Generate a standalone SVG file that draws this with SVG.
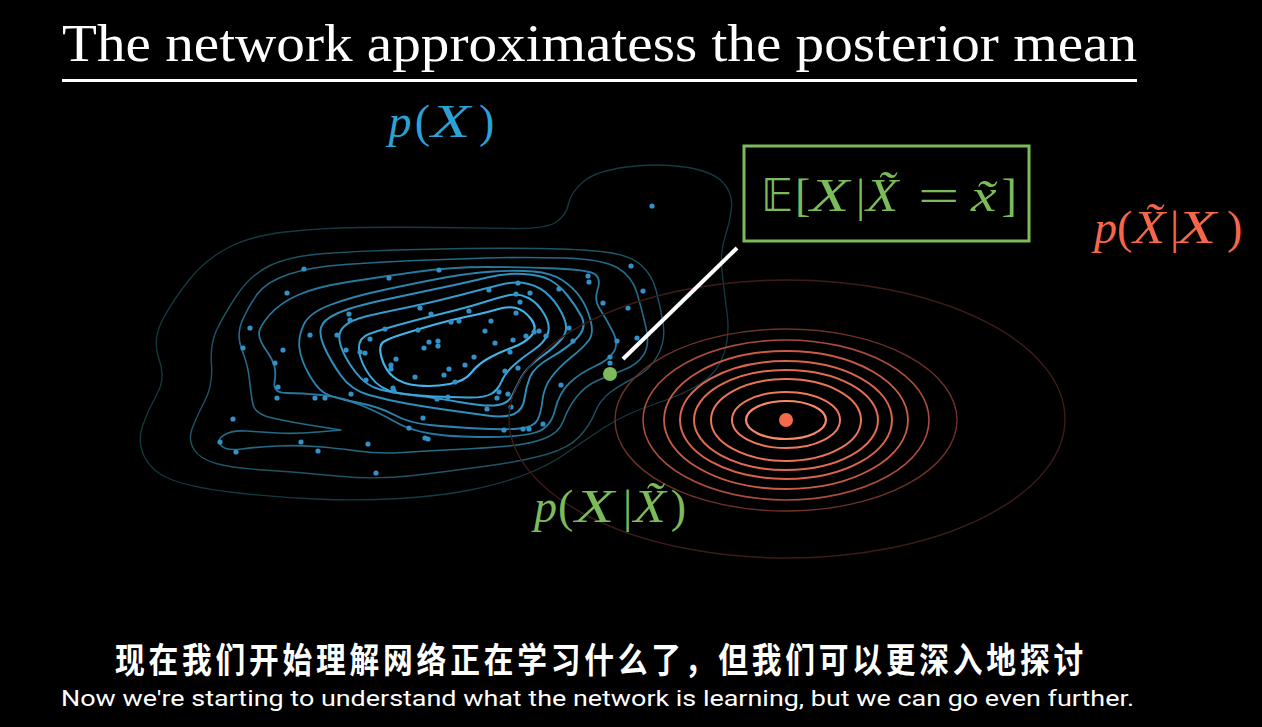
<svg xmlns="http://www.w3.org/2000/svg" width="1262" height="727" viewBox="0 0 1262 727">
<style>
.bc{fill:none;stroke-linejoin:round}
.rc{fill:none}
.m{font-family:"Liberation Serif","Times New Roman",serif;font-size:46px}
.i{font-style:italic}
.bb{font-family:"DejaVu Sans","DejaVu Serif",serif;font-size:44px}
.dot{fill:#3391c9}
.blue{fill:#2aa2d6}
.green{fill:#7cbb5a}
.red{fill:#f4674a}
</style>
<rect width="1262" height="727" fill="#000"/>

<g id="title">
<text x="62" y="61" font-family="'Liberation Serif','Times New Roman',serif" font-size="53" fill="#fff" textLength="1075" lengthAdjust="spacingAndGlyphs">The network approximatess the posterior mean</text>
<rect x="62" y="79" width="1075" height="3" fill="#fff"/>
</g>

<g id="prior-contours">
<path class="bc" stroke="#143a44" stroke-width="1.3" d="M189,280 Q173,300 162.5,320 Q152,340 159,359 Q166,378 157,394 Q148,410 142.5,426 Q137,442 144.5,457 Q152,472 171,479.5 Q190,487 230,492 Q270,497 315,499 Q360,501 400,498.5 Q440,496 470,490 Q500,484 524,475 Q548,466 566.5,453 Q585,440 605,427 Q625,414 655,404 Q685,394 701.5,383 Q718,372 724,353.5 Q730,335 727,312.5 Q724,290 722,271 Q720,252 725,237 Q730,222 731.5,207.5 Q733,193 722.5,182 Q712,171 684.5,167 Q657,163 626.5,167 Q596,171 583.5,181.5 Q571,192 568.5,204 Q566,216 555.5,222.5 Q545,229 512.5,228.5 Q480,228 440,227.5 Q400,227 360,227.5 Q320,228 285,232 Q250,236 227.5,248 Q205,260 189,280 Z"/>
<path class="bc" stroke="#1d5566" stroke-width="1.4" d="M236,296.5 Q222,318 216,331.5 Q210,345 211.5,365 Q213,385 204.5,401.5 Q196,418 192,429 Q188,440 194,449.5 Q200,459 216,463.5 Q232,468 264.5,470 Q297,472 336.5,476 Q376,480 413.5,475.5 Q451,471 487,466 Q523,461 546,454.5 Q569,448 579.5,436.5 Q590,425 595,412.5 Q600,400 610,392.5 Q620,385 635,377.5 Q650,370 658,355 Q666,340 663,322.5 Q660,305 656,290 Q652,275 641,265 Q630,255 605,252 Q580,249 540,248.5 Q500,248 465,248.5 Q430,249 395,250 Q360,251 325,253.5 Q290,256 270,265.5 Q250,275 236,296.5 Z"/>
<path class="bc" stroke="#236a86" stroke-width="1.6" d="M257,294.5 Q248,307 242,321 Q236,335 242,350 Q248,365 249.5,380 Q251,395 253,404.5 Q255,414 272.5,418 Q290,422 315.5,426 Q341,430 341,430 Q341,430 318,432 Q295,434 277.5,433 Q260,432 246,431 Q232,430 224,435 Q216,440 221,445.5 Q226,451 241.5,449 Q257,447 276.5,446 Q296,445 315.5,446.5 Q335,448 357.5,451 Q380,454 402.5,452.5 Q425,451 456,449.5 Q487,448 508.5,446 Q530,444 544.5,438.5 Q559,433 563.5,420.5 Q568,408 576.5,397 Q585,386 597.5,380.5 Q610,375 623.5,370 Q637,365 643.5,355 Q650,345 646,327.5 Q642,310 637,293 Q632,276 617,267.5 Q602,259 562.5,258 Q523,257 487,258 Q451,259 415.5,260.5 Q380,262 345,264.5 Q310,267 288,274.5 Q266,282 257,294.5 Z"/>
<path class="bc" stroke="#27779b" stroke-width="1.8" d="M259,333.5 Q259,340 266,350 Q273,360 274.5,366.5 Q276,373 274.5,383 Q273,393 287,393 Q301,393 321,395 Q341,397 360.5,405 Q380,413 394.5,421.5 Q409,430 430,433.5 Q451,437 487,437 Q523,437 537,432 Q551,427 555,410 Q559,393 569.5,383 Q580,373 594.5,366.5 Q609,360 614,351.5 Q619,343 612,330 Q605,317 599.5,308.5 Q594,300 597.5,290 Q601,280 596,275 Q591,270 557,268.5 Q523,267 487,267 Q451,267 415.5,272 Q380,277 348,282 Q316,287 298,295 Q280,303 269.5,315 Q259,327 259,333.5 Z"/>
<path class="bc" stroke="#2b84ad" stroke-width="1.8" d="M303.5,325 Q298,337 299.5,348.5 Q301,360 308.5,373.5 Q316,387 323,392 Q330,397 355,402 Q380,407 394.5,415 Q409,423 430,425 Q451,427 478,428.5 Q505,430 519.5,428.5 Q534,427 537.5,420 Q541,413 542.5,400 Q544,387 551.5,377 Q559,367 571.5,357 Q584,347 589,340 Q594,333 590.5,320 Q587,307 580,297 Q573,287 562,280 Q551,273 533.5,271.5 Q516,270 492.5,271.5 Q469,273 442.5,278 Q416,283 383.5,290 Q351,297 330,305 Q309,313 303.5,325 Z"/>
<path class="bc" stroke="#2f8fbd" stroke-width="2" d="M321,327.5 Q319,335 324.5,347.5 Q330,360 340.5,375 Q351,390 369,395 Q387,400 406.5,403.5 Q426,407 447.5,410 Q469,413 487,415.5 Q505,418 514,414 Q523,410 524.5,398.5 Q526,387 530,377 Q534,367 551.5,357 Q569,347 578,337 Q587,327 581.5,316.5 Q576,306 567.5,295.5 Q559,285 550,280 Q541,275 523,274 Q505,273 487,277.5 Q469,282 442.5,287.5 Q416,293 383.5,300 Q351,307 337,313.5 Q323,320 321,327.5 Z"/>
<path class="bc" stroke="#349bcc" stroke-width="2" d="M344,326.5 Q337,333 340.5,345 Q344,357 355,371.5 Q366,386 380,389.5 Q394,393 415.5,395.5 Q437,398 462,402.5 Q487,407 498,405 Q509,403 512.5,395 Q516,387 521.5,377 Q527,367 541,357 Q555,347 562,338.5 Q569,330 564,318 Q559,306 550,296.5 Q541,287 528.5,284 Q516,281 501.5,284.5 Q487,288 460.5,295 Q434,302 407,307.5 Q380,313 365.5,316.5 Q351,320 344,326.5 Z"/>
<path class="bc" stroke="#3aa8dc" stroke-width="2" d="M369,334 Q358,338 359,350 Q360,362 370,376 Q380,390 398,393 Q416,396 433.5,396.5 Q451,397 467.5,397.5 Q484,398 491,394 Q498,390 501.5,381.5 Q505,373 514,365 Q523,357 533.5,350 Q544,343 547.5,334.5 Q551,326 544.5,314.5 Q538,303 528.5,298 Q519,293 509.5,295 Q500,297 484.5,302 Q469,307 442.5,313.5 Q416,320 398,325 Q380,330 369,334 Z"/>
<path class="bc" stroke="#42b6ea" stroke-width="2.2" d="M384,341.5 Q378,345 381.5,357.5 Q385,370 393.5,377 Q402,384 418,385.5 Q434,387 449.5,384 Q465,381 471.5,372.5 Q478,364 489,358 Q500,352 512.5,347.5 Q525,343 531.5,335.5 Q538,328 531,319 Q524,310 516,308 Q508,306 496.5,309.5 Q485,313 467.5,316.5 Q450,320 433,325 Q416,330 403,334 Q390,338 384,341.5 Z"/>
</g>

<g id="samples">
<circle class="dot" cx="652" cy="206" r="2.6"/><circle class="dot" cx="304" cy="269" r="2.6"/><circle class="dot" cx="439" cy="270" r="2.6"/><circle class="dot" cx="389" cy="278" r="2.6"/><circle class="dot" cx="287" cy="293" r="2.6"/><circle class="dot" cx="631" cy="266" r="2.6"/><circle class="dot" cx="588" cy="276" r="2.6"/><circle class="dot" cx="589" cy="282" r="2.6"/><circle class="dot" cx="643" cy="291" r="2.6"/><circle class="dot" cx="518" cy="283" r="2.6"/><circle class="dot" cx="489" cy="290" r="2.6"/><circle class="dot" cx="559" cy="289" r="2.6"/><circle class="dot" cx="516" cy="294" r="2.6"/><circle class="dot" cx="530" cy="293" r="2.6"/><circle class="dot" cx="520" cy="302" r="2.6"/><circle class="dot" cx="603" cy="303" r="2.6"/><circle class="dot" cx="628" cy="308" r="2.6"/><circle class="dot" cx="516" cy="313" r="2.6"/><circle class="dot" cx="420" cy="308" r="2.6"/><circle class="dot" cx="431" cy="314" r="2.6"/><circle class="dot" cx="469" cy="311" r="2.6"/><circle class="dot" cx="349" cy="314" r="2.6"/><circle class="dot" cx="350" cy="320" r="2.6"/><circle class="dot" cx="250" cy="328" r="2.6"/><circle class="dot" cx="310" cy="335" r="2.6"/><circle class="dot" cx="337" cy="335" r="2.6"/><circle class="dot" cx="491" cy="321" r="2.6"/><circle class="dot" cx="451" cy="322" r="2.6"/><circle class="dot" cx="459" cy="321" r="2.6"/><circle class="dot" cx="385" cy="329" r="2.6"/><circle class="dot" cx="418" cy="330" r="2.6"/><circle class="dot" cx="485" cy="331" r="2.6"/><circle class="dot" cx="534" cy="332" r="2.6"/><circle class="dot" cx="539" cy="331" r="2.6"/><circle class="dot" cx="546" cy="336" r="2.6"/><circle class="dot" cx="526" cy="336" r="2.6"/><circle class="dot" cx="513" cy="340" r="2.6"/><circle class="dot" cx="569" cy="328" r="2.6"/><circle class="dot" cx="573" cy="341" r="2.6"/><circle class="dot" cx="617" cy="341" r="2.6"/><circle class="dot" cx="637" cy="338" r="2.6"/><circle class="dot" cx="370" cy="339" r="2.6"/><circle class="dot" cx="429" cy="342" r="2.6"/><circle class="dot" cx="438" cy="341" r="2.6"/><circle class="dot" cx="438" cy="346" r="2.6"/><circle class="dot" cx="424" cy="348" r="2.6"/><circle class="dot" cx="495" cy="343" r="2.6"/><circle class="dot" cx="510" cy="352" r="2.6"/><circle class="dot" cx="474" cy="357" r="2.6"/><circle class="dot" cx="465" cy="365" r="2.6"/><circle class="dot" cx="449" cy="369" r="2.6"/><circle class="dot" cx="444" cy="375" r="2.6"/><circle class="dot" cx="455" cy="382" r="2.6"/><circle class="dot" cx="415" cy="377" r="2.6"/><circle class="dot" cx="396" cy="359" r="2.6"/><circle class="dot" cx="391" cy="365" r="2.6"/><circle class="dot" cx="391" cy="369" r="2.6"/><circle class="dot" cx="243" cy="348" r="2.6"/><circle class="dot" cx="283" cy="350" r="2.6"/><circle class="dot" cx="346" cy="350" r="2.6"/><circle class="dot" cx="360" cy="352" r="2.6"/><circle class="dot" cx="365" cy="353" r="2.6"/><circle class="dot" cx="275" cy="363" r="2.6"/><circle class="dot" cx="505" cy="371" r="2.6"/><circle class="dot" cx="518" cy="368" r="2.6"/><circle class="dot" cx="610" cy="357" r="2.6"/><circle class="dot" cx="610" cy="363" r="2.6"/><circle class="dot" cx="366" cy="380" r="2.6"/><circle class="dot" cx="278" cy="387" r="2.6"/><circle class="dot" cx="277" cy="398" r="2.6"/><circle class="dot" cx="315" cy="398" r="2.6"/><circle class="dot" cx="325" cy="398" r="2.6"/><circle class="dot" cx="351" cy="394" r="2.6"/><circle class="dot" cx="393" cy="388" r="2.6"/><circle class="dot" cx="394" cy="391" r="2.6"/><circle class="dot" cx="437" cy="399" r="2.6"/><circle class="dot" cx="448" cy="397" r="2.6"/><circle class="dot" cx="499" cy="392" r="2.6"/><circle class="dot" cx="508" cy="394" r="2.6"/><circle class="dot" cx="497" cy="398" r="2.6"/><circle class="dot" cx="561" cy="385" r="2.6"/><circle class="dot" cx="511" cy="407" r="2.6"/><circle class="dot" cx="487" cy="409" r="2.6"/><circle class="dot" cx="423" cy="418" r="2.6"/><circle class="dot" cx="409" cy="428" r="2.6"/><circle class="dot" cx="425" cy="438" r="2.6"/><circle class="dot" cx="428" cy="439" r="2.6"/><circle class="dot" cx="504" cy="430" r="2.6"/><circle class="dot" cx="523" cy="429" r="2.6"/><circle class="dot" cx="529" cy="429" r="2.6"/><circle class="dot" cx="543" cy="424" r="2.6"/><circle class="dot" cx="233" cy="419" r="2.6"/><circle class="dot" cx="220" cy="442" r="2.6"/><circle class="dot" cx="236" cy="452" r="2.6"/><circle class="dot" cx="301" cy="442" r="2.6"/><circle class="dot" cx="318" cy="451" r="2.6"/><circle class="dot" cx="368" cy="444" r="2.6"/><circle class="dot" cx="376" cy="473" r="2.6"/>
</g>

<g id="likelihood-contours">
<ellipse class="rc" cx="787" cy="419" rx="278" ry="139" stroke="#3e1d18" stroke-width="1.4"/>
<ellipse class="rc" cx="786" cy="420" rx="171" ry="91" stroke="#6e3228" stroke-width="1.4"/>
<ellipse class="rc" cx="786" cy="420" rx="143" ry="80" stroke="#a84c3c" stroke-width="1.6"/>
<ellipse class="rc" cx="786" cy="420" rx="122" ry="69" stroke="#c85c46" stroke-width="1.8"/>
<ellipse class="rc" cx="786" cy="420" rx="106" ry="59" stroke="#d8654c" stroke-width="2"/>
<ellipse class="rc" cx="786" cy="420" rx="92" ry="50" stroke="#e26c52" stroke-width="2"/>
<ellipse class="rc" cx="786" cy="420" rx="75" ry="41" stroke="#ec7558" stroke-width="2"/>
<ellipse class="rc" cx="786" cy="420" rx="54" ry="28" stroke="#f07a5c" stroke-width="2"/>
<ellipse class="rc" cx="786" cy="420" rx="40" ry="19" stroke="#f98a6a" stroke-width="2.2"/>
</g>

<g id="connectors">
<line x1="737" y1="248" x2="623" y2="359" stroke="#fff" stroke-width="4"/>
</g>

<g id="noisy-point">
<circle cx="610" cy="374" r="7" fill="#7dba5b"/>
</g>
<g id="clean-point">
<circle cx="786" cy="420" r="7" fill="#f26a4b"/>
</g>

<g id="label-prior" class="blue">
<text class="m i" x="388.5" y="137">p</text>
<text class="m" x="414.8" y="137">(</text>
<text class="m i" transform="translate(431,137) scale(1.4,1)">X</text>
<text class="m" x="479" y="137">)</text>
</g>

<g id="posterior-mean-box">
<rect x="744" y="146" width="285" height="95" fill="none" stroke="#7cbb5a" stroke-width="3"/>
<g class="green">
<text class="bb" x="761" y="211">𝔼</text>
<text class="m" x="795" y="211">[</text>
<text class="m i" transform="translate(810,211) scale(1.4,1)">X</text>
<text class="m" x="856" y="211">|</text>
<text class="m i" transform="translate(866,211) scale(1.15,1)">X̃</text>
<text class="m" transform="translate(918,211) scale(1.6,1)">=</text>
<text class="m i" transform="translate(971,211) scale(1.25,1)">x̃</text>
<text class="m" x="1001.5" y="211">]</text>
</g>
</g>

<g id="label-likelihood" class="red">
<text class="m i" x="1094" y="243">p</text>
<text class="m" x="1117" y="243">(</text>
<text class="m i" transform="translate(1133,243) scale(1.15,1)">X̃</text>
<text class="m" x="1170" y="243">|</text>
<text class="m i" transform="translate(1177,243) scale(1.4,1)">X</text>
<text class="m" x="1227" y="243">)</text>
</g>

<g id="label-posterior" class="green">
<text class="m i" x="534" y="522">p</text>
<text class="m" x="558" y="522">(</text>
<text class="m i" transform="translate(575,522) scale(1.4,1)">X</text>
<text class="m" x="623" y="522">|</text>
<text class="m i" transform="translate(633.5,522) scale(1.15,1)">X̃</text>
<text class="m" x="670.7" y="522">)</text>
</g>

<g id="subtitles">
<text transform="translate(115,673) scale(0.85,1)" font-family="'Noto Sans CJK SC',sans-serif" font-weight="bold" font-size="35" fill="#fff" textLength="1139" lengthAdjust="spacing">现在我们开始理解网络正在学习什么了，但我们可以更深入地探讨</text>
<text x="61" y="706" font-family="Roboto,'Liberation Sans',sans-serif" font-size="22" fill="#fff" textLength="1073" lengthAdjust="spacingAndGlyphs">Now we're starting to understand what the network is learning, but we can go even further.</text>
</g>
</svg>
